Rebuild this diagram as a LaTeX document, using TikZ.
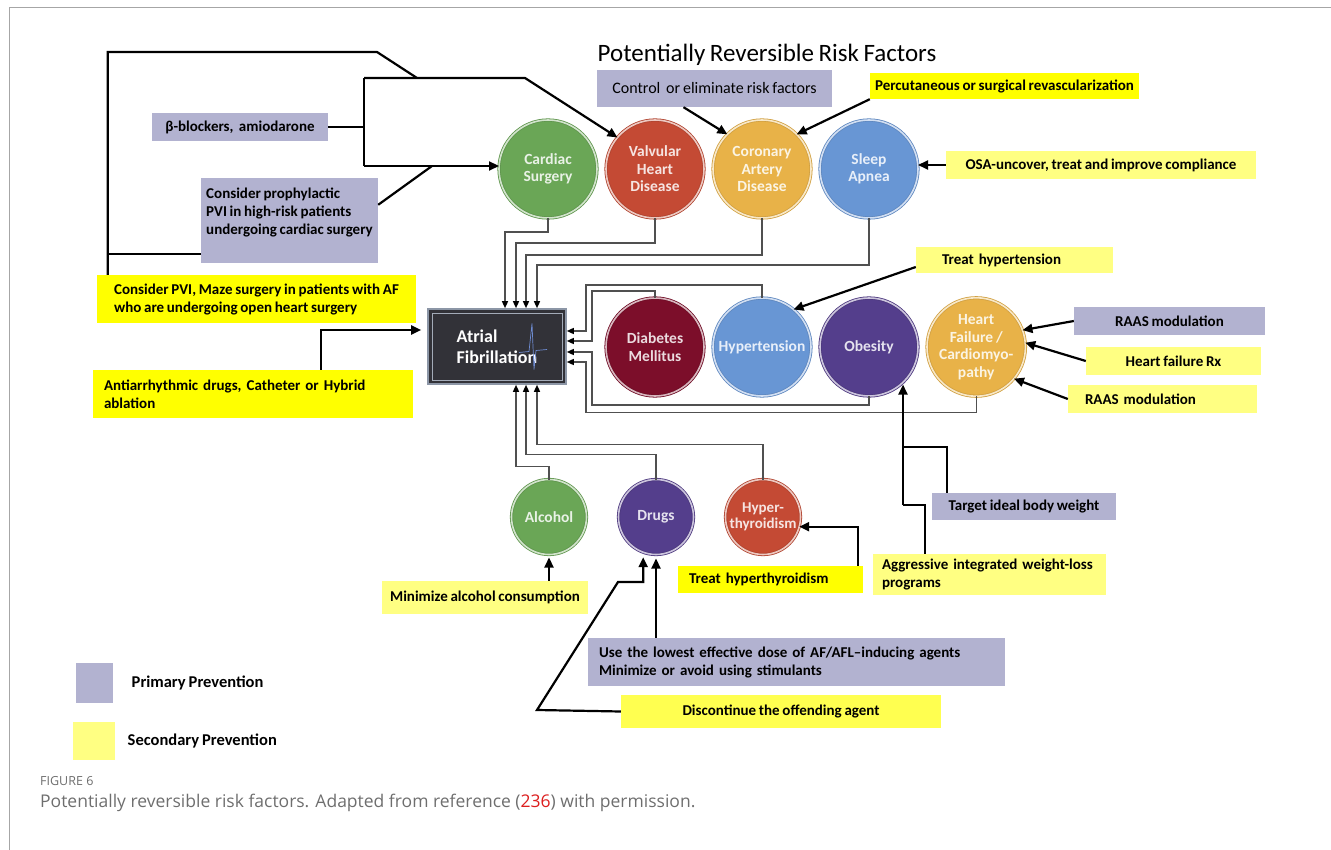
\documentclass[tikz,border=0pt]{standalone}
\usepackage{fontspec}
\setmainfont{Carlito}[WordSpace=0.8]
\newfontfamily\capfont{Open Sans}
\usetikzlibrary{positioning, shapes.geometric, arrows, arrows.meta, calc}

\definecolor{primbox}{RGB}{178,178,208}
\definecolor{secbox}{RGB}{255,255,0}
\definecolor{secmid}{RGB}{255,255,80}
\definecolor{secpale}{RGB}{255,255,130}
\definecolor{surgreen}{RGB}{106,166,86}
\definecolor{valvred}{RGB}{196,74,52}
\definecolor{cadgold}{RGB}{232,178,72}
\definecolor{apneablue}{RGB}{104,150,212}
\definecolor{dmred}{RGB}{124,14,42}
\definecolor{obpurple}{RGB}{84,62,140}
\definecolor{afdark}{RGB}{50,50,56}
\definecolor{afrim}{RGB}{140,150,166}
\definecolor{ecgblue}{RGB}{110,140,210}
\definecolor{pipe}{RGB}{80,80,80}
\definecolor{capgray}{RGB}{110,110,110}
\definecolor{refred}{RGB}{220,30,30}

\begin{document}
\begin{tikzpicture}[x=1pt, y=-1pt, node distance=9pt, >=latex]
      \tikzstyle{primary} = [rectangle, fill=primbox, inner sep=0pt, font=\fontsize{15}{18}\selectfont\bfseries]
      \tikzstyle{secondary} = [rectangle, fill=secbox, inner sep=0pt, font=\fontsize{15}{18}\selectfont\bfseries]
      \tikzstyle{secondarymid} = [secondary, fill=secmid]
      \tikzstyle{secondarylight} = [secondary, fill=secpale]
      \tikzstyle{legendtext} = [font=\fontsize{16.5}{19}\selectfont\bfseries]
      \tikzstyle{feed} = [draw=pipe, line width=1.4pt, -{Triangle[length=7pt,width=6pt,color=black]}]
      \tikzstyle{link} = [line width=2.2pt]
      \tikzstyle{arrow} = [link, -{Triangle[length=10pt,width=9pt]}]
      \tikzset{factor/.style={circle, outer sep=0pt, inner sep=0pt, minimum size=98pt, align=center,
          font=\fontsize{15.5}{17.5}\selectfont\bfseries, line width=0.8pt, fill=#1, draw=#1!90!black,
          double=#1!30!white, double distance=1.6pt, text=#1!15!white},
        smallfactor/.style={factor=#1, minimum size=75pt}}

      \useasboundingbox (0,0) rectangle (1331,850);
      \draw[gray!70, line width=1pt] (9,850) -- (9,8) -- (1331,8);

      \node (title) [font=\fontsize{25}{28}\selectfont] at (767,55) {Potentially Reversible Risk Factors};

      % risk factors
      \node (cardiac) [factor=surgreen] at (548,169) {Cardiac\\Surgery};
      \node (valvular) [factor=valvred, right=of cardiac] {Valvular\\Heart\\Disease};
      \node (coronary) [factor=cadgold, right=of valvular] {Coronary\\Artery\\Disease};
      \node (apnea) [factor=apneablue, right=of coronary] {Sleep\\Apnea};

      \node (diabetes) [factor=dmred] at (655,347) {Diabetes\\Mellitus};
      \node (hypertension) [factor=apneablue, right=of diabetes] {Hypertension};
      \node (obesity) [factor=obpurple, right=of hypertension] {Obesity};
      \node (failure) [factor=cadgold, right=of obesity] {Heart\\Failure /\\Cardiomyo-\\pathy};

      \node (alcohol) [smallfactor=surgreen] at (549,517) {Alcohol};
      \node (drugs) [smallfactor=obpurple, right=32pt of alcohol] {Drugs};
      \node (thyroid) [smallfactor=valvred, right=32pt of drugs, font=\fontsize{15}{16.5}\selectfont\bfseries] {Hyper-\\thyroidism};

      \node (af) [rectangle, fill=afdark, draw=afrim, line width=1.6pt, minimum width=138pt, minimum height=75pt,
          text=white, align=left, font=\fontsize{18}{21}\selectfont\bfseries] at (497,346.5) {Atrial\\Fibrillation};
      \draw[afrim!80, line width=0.6pt] ($(af.north west)+(5,5)$) rectangle ($(af.south east)+(-5,-5)$);
      \draw[ecgblue, line width=0.7pt] ($(af.center)+(22,6)$) -- ++(10,-1) -- ++(3,-28) -- ++(2,46) -- ++(2,-19) -- ++(11,-1);

      % prevention boxes
      \node (control) [primary, minimum width=235pt, minimum height=37pt, font=\fontsize{16}{19}\selectfont] at (714.5,88.5) {Control~ or eliminate risk factors};
      \node (revasc) [secondary, minimum width=269pt, minimum height=26pt] at (1004.5,86) {Percutaneous or surgical revascularization};
      \node (blockers) [primary, minimum width=176pt, minimum height=28pt] at (240,127) {β-blockers,~ amiodarone};
      \node (prophylactic) [primary, minimum width=177pt, minimum height=85pt, align=left] at (289.5,220.5) {Consider prophylactic\\PVI in high-risk patients\\undergoing cardiac surgery\\\mbox{}};
      \node (maze) [secondary, minimum width=319pt, minimum height=48pt, align=left] at (256.5,299) {Consider PVI, Maze surgery in patients with AF\\who are undergoing open heart surgery};
      \node (antiarr) [secondary, inner xsep=11pt, text width=298pt, minimum height=48pt, align=left] at (253,394) {Antiarrhythmic drugs, Catheter or Hybrid\\ablation};
      \node (osa) [secondarylight, minimum width=310pt, minimum height=28pt] at (1101,165) {OSA-uncover, treat and improve compliance};
      \node (treathtn) [secondarylight, inner xsep=26pt, text width=145pt, minimum height=26pt, align=left] at (1014.5,260) {Treat hypertension};
      \node (raasA) [primary, minimum width=191pt, minimum height=28pt] at (1169.5,321) {RAAS modulation};
      \node (hfrx) [secondarylight, minimum width=175pt, minimum height=28pt] at (1173.5,361) {Heart failure Rx};
      \node (raasB) [secondarylight, inner xsep=17pt, text width=155pt, minimum height=28pt, align=left] at (1162.5,399) {RAAS modulation};
      \node (targetwt) [primary, minimum width=184pt, minimum height=27pt] at (1024,506.5) {Target ideal body weight};
      \node (weightloss) [secondarylight, inner xsep=9pt, text width=215pt, minimum height=41pt, align=left] at (989.5,574.5) {Aggressive integrated weight-loss\\programs};
      \node (treatthyroid) [secondary, inner xsep=11pt, text width=163pt, minimum height=27pt, align=left] at (770.5,579.5) {Treat hyperthyroidism};
      \node (minalcohol) [secondarylight, minimum width=206pt, minimum height=33pt] at (485,597.5) {Minimize alcohol consumption};
      \node (lowestdose) [primary, inner xsep=11pt, text width=395pt, minimum height=48pt, align=left] at (796.5,662) {Use the lowest effective dose of AF/AFL--inducing agents\\Minimize or avoid using stimulants};
      \node (discontinue) [secondarymid, minimum width=320pt, minimum height=33pt] at (781,711.5) {Discontinue the offending agent};

      % legend
      \node (legprim) [primary, minimum width=37pt, minimum height=40pt] at (94.5,683) {};
      \node (legprimtext) [legendtext, right=15pt of legprim] {Primary Prevention};
      \node (legsec) [secondarylight, minimum width=42pt, minimum height=38pt] at (94,741) {};
      \node (legsectext) [legendtext, right=9pt of legsec] {Secondary Prevention};

      \node (fig) [anchor=west, inner sep=0pt, text=capgray, font=\capfont\fontsize{12.5}{14}\selectfont] at (40,781) {FIGURE 6};
      \node (caption) [anchor=west, inner sep=0pt, text=capgray, font=\capfont\fontsize{17.5}{20}\selectfont] at (40,803)
          {Potentially reversible risk factors. Adapted from reference (\textcolor{refred}{236}) with permission.};

      % risk factors into AF
      \draw [feed] (cardiac.south) -- ++(0,14) -| ($(af.north)+(8,0)$);
      \draw [feed] (valvular.south) -- ++(0,25) -| ($(af.north)+(19,0)$);
      \draw [feed] (coronary.south) -- ++(0,37) -| ($(af.north)+(29,0)$);
      \draw [feed] (apnea.south) -- ++(0,47) -| ($(af.north)+(40,0)$);

      \draw [feed] (hypertension.north) -- ++(0,-13) -| ($(af.east)+(19,-15.5)$) -- ($(af.east)+(0,-15.5)$);
      \draw [feed] (diabetes.north) -- ++(0,-7) -| ($(af.east)+(25,-5.5)$) -- ($(af.east)+(0,-5.5)$);
      \draw [feed] (obesity.south) -- ++(0,9) -| ($(af.east)+(25,5.5)$) -- ($(af.east)+(0,5.5)$);
      \draw [feed] (failure.south) -- ++(0,16) -| ($(af.east)+(19,15.5)$) -- ($(af.east)+(0,15.5)$);

      \draw [feed] (alcohol.north) -- ++(0,-13) -| ($(af.south)+(19,0)$);
      \draw [feed] (drugs.north) -- ++(0,-25) -| ($(af.south)+(29,0)$);
      \draw [feed] (thyroid.north) -- ++(0,-35) -| ($(af.south)+(40,0)$);

      % prevention arrows
      \coordinate (bracetop) at (364,78);
      \coordinate (bracebot) at (364,166);
      \coordinate (bracejoin) at (432,166);
      \coordinate (outerleft) at (108,254);
      \coordinate (outerNE) at (377,52);
      \coordinate (outerjoin) at (417,78);
      \coordinate (valvbend) at (525,78);
      \coordinate (prophlink) at ([yshift=-76pt]prophylactic.north west);

      \draw [link] (blockers.east) -- (blockers.east -| bracetop);
      \draw [link] (bracetop) -- (bracebot);
      \draw [arrow] (bracetop) -- (valvbend) -- (valvular.140);
      \draw [arrow] (bracebot) -- (bracebot -| cardiac.west);
      \draw [link] ([yshift=-27pt]prophylactic.north east) -- (bracejoin);
      \draw [link] ([xshift=11pt]maze.north west) |- (outerNE) -- (outerjoin);
      \draw [link] (prophlink) -- (prophlink -| outerleft);
      \draw [arrow] ([xshift=228pt]antiarr.north west) |- ($(af.west)+(-6,-16.5)$);

      \draw [arrow] ([xshift=-31pt]control.south) -- (coronary.135);
      \draw [arrow] (revasc.south west) -- (coronary.45);
      \draw [arrow] (osa.west) -- (osa.west -| apnea.east);
      \draw [arrow] ([yshift=-7pt]treathtn.west) -- (hypertension.50);
      \draw [arrow] (raasA.west) -- (failure.20);
      \draw [arrow] (hfrx.west) -- (failure.5);
      \draw [arrow] (raasB.west) -- (failure.-40);

      \coordinate (wtupper) at (903,447);
      \coordinate (wtjoin) at (903,505);
      \draw [link] ([xshift=15pt]targetwt.north west) |- (wtupper);
      \draw [link] ([xshift=52pt]weightloss.north west) |- (wtjoin);
      \draw [arrow] (wtjoin) -- (wtjoin |- obesity.-50);

      \draw [arrow] ([xshift=-5pt]treatthyroid.north east) |- (thyroid.-15);
      \draw [arrow] (minalcohol.north -| alcohol.south) -- ([yshift=-3pt]alcohol.south);
      \draw [arrow] (lowestdose.north -| drugs.south) -- ([yshift=-4pt]drugs.south);

      \coordinate (dcbend) at (537,710);
      \coordinate (dcup) at (618,582);
      \draw [arrow] (discontinue.west) -- (dcbend) -- (dcup) -| ([yshift=-5pt]drugs.250);

    \end{tikzpicture}
\end{document}
